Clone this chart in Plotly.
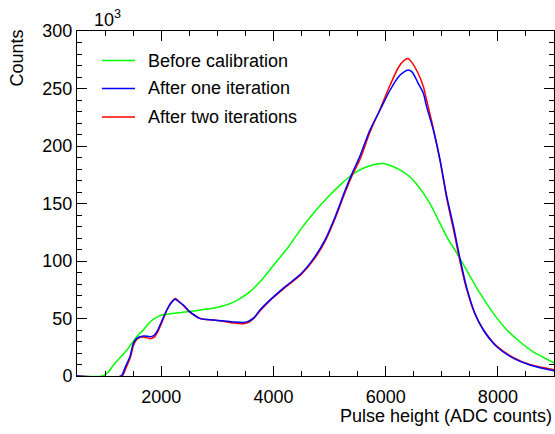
import plotly.graph_objects as go

# ---- data (counts in units of 10^3) ----
before_x = [500, 950, 1050, 1150, 1250, 1390, 1560, 1680, 1800, 1900, 2010, 2220, 2500, 2700,
            3050, 3300, 3550, 3790, 4030, 4270, 4500, 4740, 4980, 5220, 5400, 5600, 5840, 5950,
            6140, 6300, 6430, 6550, 6670, 6800, 6910, 7090, 7270, 7440, 7680, 7920, 8160, 8390,
            8630, 8800, 9000]
before_y = [0, 0, 3, 9.6, 15, 22.6, 34, 40, 47, 50.5, 53, 54.5, 56, 57.4,
            60.3, 64.5, 72, 83.5, 98, 112.4, 128.4, 143, 156, 167.5, 175, 180.6, 184.3, 184.8,
            182, 178, 173.3, 167, 159, 149, 138.5, 121, 106.7, 92.2, 72, 54.5, 40, 29.8,
            21, 16.5, 11.5]

one_x = [500, 1290, 1330, 1380, 1445, 1505, 1570, 1690, 1800, 1860, 1930, 1980, 2100, 2170,
         2246, 2320, 2400, 2510, 2690, 2930, 3100, 3290, 3460, 3550, 3650, 3760, 3970, 4210,
         4500, 4740, 4920, 5100, 5280, 5400, 5540, 5720, 5900, 6080, 6230, 6330, 6400, 6470,
         6580, 6670, 6730, 6850, 6970, 7090, 7210, 7330, 7440, 7590, 7740, 7980, 8280, 8570, 9000]
one_y = [0, 0, 4, 10, 17, 28.5, 33, 34.8, 34.2, 34.8, 39, 44.3, 57.4, 63,
         66.8, 64.5, 61.5, 56, 50.1, 48.7, 48, 47, 46.5, 47.5, 50.5, 57.4, 67.5, 77.7,
         89.3, 103.8, 118.3, 138.5, 161.7, 176, 191, 213.9, 231.3, 248.7, 260.3, 264.5, 266, 264.5,
         254.5, 246, 234.2, 213.9, 187.8, 156, 129.8, 100.9, 77.7, 54.5, 40, 25.5, 15.4, 9.6, 4.5]

two_x = [500, 1300, 1340, 1390, 1450, 1510, 1580, 1700, 1800, 1870, 1940, 1990, 2100, 2170,
         2250, 2320, 2400, 2510, 2690, 2930, 3100, 3290, 3460, 3550, 3650, 3760, 3970, 4210,
         4500, 4740, 4920, 5100, 5280, 5400, 5540, 5720, 5900, 6080, 6230, 6330, 6400, 6470,
         6580, 6670, 6730, 6850, 6970, 7090, 7210, 7330, 7440, 7590, 7740, 7980, 8280, 8570, 9000]
two_y = [0, 0, 3, 9, 16, 27, 32.5, 33.8, 32.5, 33.5, 38.5, 44, 57, 63.5,
         67.5, 64.5, 61, 55.5, 50, 48.7, 47.5, 46, 45.5, 46.5, 50, 56.5, 67, 77,
         88.5, 102.5, 117, 137, 160, 174, 188, 212, 232, 253, 268.5, 274.5, 276, 272.5,
         263, 252, 240, 215, 187, 154, 127, 98.5, 76, 54, 40.5, 26, 16, 10, 5.5]

names = ["Before calibration", "After one iteration", "After two iterations"]
colors = ["#00ff00", "#0000ff", "#ff0000"]

FONT = "Liberation Sans, Arial, Helvetica, sans-serif"
LW = 1.5

fig = go.Figure()
series = [(before_x, before_y, 0), (two_x, two_y, 2), (one_x, one_y, 1)]  # draw order
for xs, ys, i in series:
    fig.add_trace(go.Scatter(x=xs, y=ys, mode="lines", name=names[i], showlegend=False,
                             line=dict(color=colors[i], width=LW, shape="spline", smoothing=0.8)))

axis_common = dict(
    showline=True, linecolor="black", linewidth=1, mirror="allticks",
    ticks="inside", ticklen=10, tickwidth=1, tickcolor="black",
    showgrid=False, zeroline=False,
    tickfont=dict(family=FONT, size=18, color="black"),
)

fig.update_xaxes(range=[500, 9000], dtick=2000, tick0=0, ticklabelstandoff=4,
                 minor=dict(dtick=500, tick0=0, ticks="inside", ticklen=5, tickcolor="black"),
                 **axis_common)
fig.update_yaxes(range=[0, 300], dtick=50, tick0=0,
                 minor=dict(dtick=10, tick0=0, ticks="inside", ticklen=5, tickcolor="black"),
                 **axis_common)

W, H = 555, 430
X0, X1, Y0, Y1 = 77, 554, 31, 376          # plot frame in page pixels

def px(xp):
    return (xp - X0) / (X1 - X0)

def py(yp):
    return (Y1 - yp) / (Y1 - Y0)

annotations = [
    dict(text="Counts", textangle=-90, xref="paper", yref="paper",
         x=px(16), y=py(27), xanchor="center", yanchor="top",
         showarrow=False, font=dict(family=FONT, size=18)),
    dict(text="10<sup>3</sup>", xref="paper", yref="paper",
         x=px(92), y=py(32), xanchor="left", yanchor="bottom",
         showarrow=False, font=dict(family=FONT, size=18)),
    dict(text="Pulse height (ADC counts)", xref="paper", yref="paper",
         x=px(554), y=py(416), xanchor="right", yanchor="middle",
         showarrow=False, font=dict(family=FONT, size=18)),
]
shapes = []
legend_rows = [60.5, 88.5, 117]
for i, yrow in enumerate(legend_rows):
    shapes.append(dict(type="line", xref="paper", yref="paper",
                       x0=px(102), x1=px(135), y0=py(yrow), y1=py(yrow),
                       line=dict(color=colors[i], width=LW)))
    annotations.append(dict(text=names[i], xref="paper", yref="paper",
                            x=px(146), y=py(yrow), xanchor="left", yanchor="middle",
                            showarrow=False, font=dict(family=FONT, size=18)))

fig.update_layout(
    width=W, height=H,
    margin=dict(l=X0, r=W - X1, t=Y0, b=H - Y1, pad=0),
    paper_bgcolor="white", plot_bgcolor="white",
    font=dict(family=FONT, size=18, color="black"),
    showlegend=False,
    annotations=annotations,
    shapes=shapes,
)

fig.write_html("out.html",
               config={"displayModeBar": False},
               post_script="document.body.style.margin='0';document.body.style.overflow='hidden';")
